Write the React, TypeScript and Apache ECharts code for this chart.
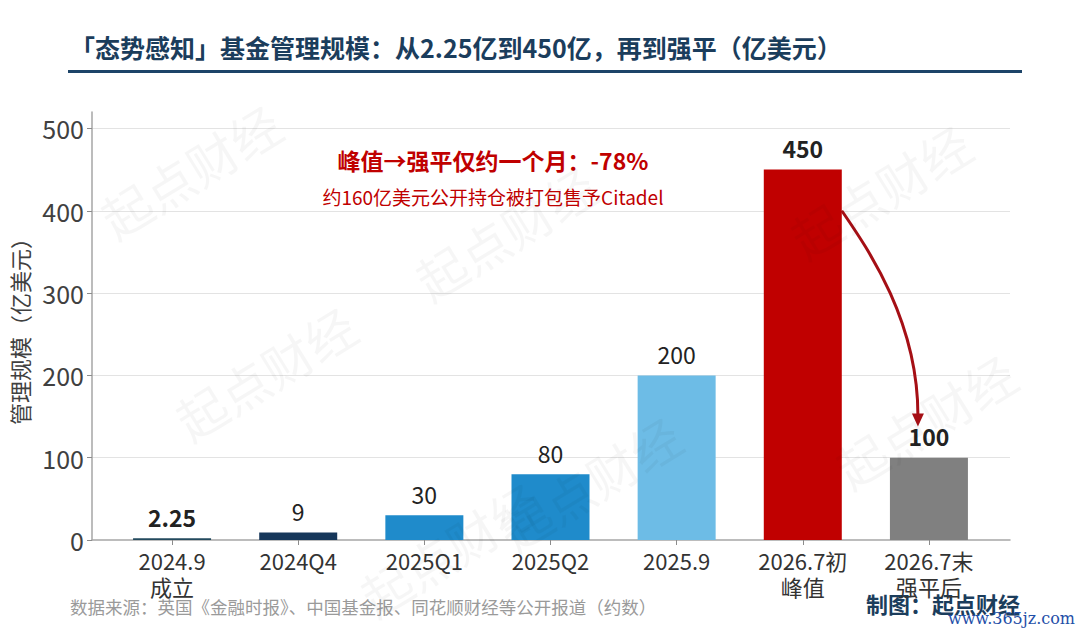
import { useEffect, useRef } from "react"
import * as echarts from "echarts"

// data (亿美元)
const CATEGORIES = ["2024.9\n成立", "2024Q4", "2025Q1", "2025Q2", "2025.9", "2026.7初\n峰值", "2026.7末\n强平后"]
const AUM = [2.25, 9, 30, 80, 200, 450, 100]
const BOLD_LABELS = [true, false, false, false, false, true, true]
const Y_MAX = 520
const Y_STEP = 100

// arrow from the peak bar to the liquidation bar: [category index, value]
const ARROW_FROM: [number, number] = [5, 400]
const ARROW_TO: [number, number] = [6, 138]

const BAR_COLORS = ["#234a5e", "#16375a", "#1f8bcb", "#1f8bcb", "#6dbce6", "#c00000", "#808080"]
const FONT = '"Noto Sans CJK SC", "Noto Sans", sans-serif'
const BAR_WIDTH = 78

const WATERMARKS: [number, number][] = [
  [190, 170], [505, 232], [880, 190], [265, 372], [590, 482], [925, 420], [450, 548],
]

export default function App() {
  const chartRef = useRef<HTMLDivElement>(null)

  useEffect(() => {
    document.body.style.margin = "0"
    if (!chartRef.current) return
    const chart = echarts.init(chartRef.current, null, { renderer: "svg" })

    const option: echarts.EChartsOption = {
      animation: false,
      backgroundColor: "#ffffff",
      textStyle: { fontFamily: FONT },
      grid: [
        { left: 91, right: 70, top: 112, bottom: 88 },
        { left: 109, right: 88, top: 112, bottom: 88 },
      ],
      xAxis: [
        {
          type: "value",
          gridIndex: 0,
          min: 0,
          max: 1,
          axisLine: { show: true, lineStyle: { color: "#a6a6a6", width: 1.5 } },
          axisTick: { show: false },
          axisLabel: { show: false },
          splitLine: { show: false },
        },
        {
          type: "category",
          gridIndex: 1,
          data: CATEGORIES,
          axisLine: { show: false },
          axisTick: { show: true, alignWithLabel: true, length: 5, lineStyle: { color: "#8c8c8c" } },
          axisLabel: {
            color: "#333333",
            fontSize: 22,
            lineHeight: 26,
            margin: 7,
            fontFamily: FONT,
            interval: 0,
          },
        },
      ],
      yAxis: [
        {
          type: "value",
          gridIndex: 0,
          min: 0,
          max: Y_MAX,
          interval: Y_STEP,
          name: "管理规模（亿美元）",
          nameLocation: "middle",
          nameGap: 62,
          nameTextStyle: { fontSize: 22, color: "#404040", fontFamily: FONT },
          axisLine: { show: true, lineStyle: { color: "#a6a6a6", width: 1.5 } },
          axisTick: { show: true, length: 5, lineStyle: { color: "#8c8c8c" } },
          axisLabel: { color: "#404040", fontSize: 25, margin: 8, showMaxLabel: false, fontFamily: FONT },
          splitLine: { show: true, showMaxLine: false, showMinLine: false, lineStyle: { color: "#e3e3e3", width: 1 } },
        },
        {
          type: "value",
          gridIndex: 1,
          min: 0,
          max: Y_MAX,
          interval: Y_STEP,
          show: false,
        },
      ],
      series: [
        {
          type: "bar",
          xAxisIndex: 1,
          yAxisIndex: 1,
          barWidth: BAR_WIDTH,
          data: AUM.map((v, i) => ({
            value: v,
            itemStyle: { color: BAR_COLORS[i] },
            label: { fontWeight: BOLD_LABELS[i] ? "bold" : "normal" },
          })),
          label: {
            show: true,
            position: "top",
            distance: 10,
            fontSize: 23,
            color: "#222222",
            fontFamily: FONT,
          },
        },
      ],
    }

    chart.setOption(option)

    const from = chart.convertToPixel({ gridIndex: 1 }, ARROW_FROM) as number[]
    const to = chart.convertToPixel({ gridIndex: 1 }, ARROW_TO) as number[]
    const x0 = from[0] + BAR_WIDTH / 2
    const y0 = from[1]
    const tipX = to[0] - 11
    const tipY = to[1]
    const x1 = tipX
    const y1 = tipY - 11
    const arrowColor = "#a50f15"

    chart.setOption({
      graphic: [
        ...WATERMARKS.map(([x, y]) => ({
          type: "text" as const,
          x,
          y,
          rotation: 0.55,
          z: 100,
          silent: true,
          style: {
            text: "起点财经",
            fontSize: 50,
            fontFamily: FONT,
            fill: "rgba(0,0,0,0.035)",
            align: "center" as const,
            verticalAlign: "middle" as const,
          },
        })),
        {
          type: "text",
          x: 70,
          y: 47,
          style: {
            text: "「态势感知」基金管理规模：从2.25亿到450亿，再到强平（亿美元）",
            fontSize: 25,
            fontWeight: "bold",
            fontFamily: FONT,
            fill: "#1b3d5c",
            verticalAlign: "middle",
          },
        },
        {
          type: "rect",
          shape: { x: 68, y: 70, width: 954, height: 3 },
          style: { fill: "#1d4468" },
        },
        {
          type: "text",
          x: 493,
          y: 160,
          style: {
            text: "峰值→强平仅约一个月：-78%",
            fontSize: 23,
            fontWeight: "bold",
            fontFamily: FONT,
            fill: "#c00000",
            align: "center",
            verticalAlign: "middle",
          },
        },
        {
          type: "text",
          x: 493,
          y: 196,
          style: {
            text: "约160亿美元公开持仓被打包售予Citadel",
            fontSize: 19,
            fontFamily: FONT,
            fill: "#c00000",
            align: "center",
            verticalAlign: "middle",
          },
        },
        {
          type: "bezierCurve",
          z: 50,
          shape: {
            x1: x0,
            y1: y0,
            cpx1: x0 + 26,
            cpy1: y0 + 38,
            cpx2: x1,
            cpy2: y0 + 110,
            x2: x1,
            y2: y1,
          },
          style: { stroke: arrowColor, lineWidth: 3, fill: "none" },
        },
        {
          type: "polygon",
          z: 50,
          shape: { points: [[tipX, tipY], [tipX - 6, tipY - 13], [tipX + 6, tipY - 13]] },
          style: { fill: arrowColor },
        },
        {
          type: "text",
          x: 70,
          y: 606,
          style: {
            text: "数据来源：英国《金融时报》、中国基金报、同花顺财经等公开报道（约数）",
            fontSize: 17.5,
            fontFamily: FONT,
            fill: "#9a9a9a",
            verticalAlign: "middle",
          },
        },
        {
          type: "text",
          x: 1020,
          y: 603,
          style: {
            text: "制图：起点财经",
            fontSize: 22,
            fontWeight: "bold",
            fontFamily: FONT,
            fill: "#1b3d5c",
            align: "right",
            verticalAlign: "middle",
          },
        },
        {
          type: "text",
          x: 1075,
          y: 618,
          style: {
            text: "www.365jz.com",
            fontSize: 16,
            fontFamily: '"DejaVu Serif", "Liberation Serif", serif',
            fill: "#1f4fa8",
            align: "right",
            verticalAlign: "middle",
          },
        },
      ],
    })

    return () => {
      chart.dispose()
    }
  }, [])

  return <div ref={chartRef} style={{ width: "1080px", height: "628px" }} />
}
